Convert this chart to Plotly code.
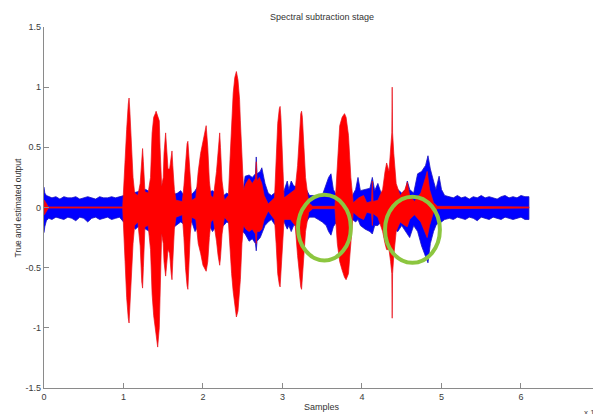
import plotly.graph_objects as go

# ---- data (x in units of 10^4 samples), envelopes ----
noisy_x = [0.00, 0.01, 0.03, 0.06, 0.10, 0.15, 0.20, 0.25, 0.30, 0.35, 0.40, 0.45, 0.50, 0.55, 0.60,
           0.65, 0.70, 0.75, 0.80, 0.85, 0.90, 0.95, 1.00, 1.10, 1.15, 1.20, 1.28, 1.33, 1.48, 1.56,
           1.64, 1.68, 1.72, 1.76, 1.86, 1.90, 1.94, 2.08, 2.12, 2.16, 2.26, 2.30, 2.34, 2.50, 2.53,
           2.58, 2.62, 2.66, 2.67, 2.68, 2.72, 2.74, 2.78, 2.82, 2.86, 2.90, 3.02, 3.06, 3.08, 3.11,
           3.14, 3.30, 3.34, 3.40, 3.45, 3.50, 3.55, 3.58, 3.61, 3.64, 3.68, 3.88, 3.92, 3.95, 3.98,
           4.04, 4.10, 4.13, 4.16, 4.20, 4.24, 4.30, 4.45, 4.50, 4.55, 4.57, 4.60, 4.65, 4.70, 4.75,
           4.80, 4.83, 4.86, 4.90, 4.93, 4.97, 5.00, 5.04, 5.10, 5.15, 5.20, 5.25, 5.30, 5.35, 5.40,
           5.45, 5.50, 5.55, 5.60, 5.65, 5.70, 5.75, 5.80, 5.85, 5.90, 5.95, 6.00, 6.05, 6.10]
noisy_upper = [0.17, 0.12, 0.10, 0.09, 0.08, 0.09, 0.07, 0.09, 0.08, 0.08, 0.09, 0.07, 0.08, 0.09, 0.08,
               0.07, 0.09, 0.08, 0.08, 0.09, 0.08, 0.09, 0.10, 0.12, 0.13, 0.14, 0.15, 0.13, 0.12, 0.12,
               0.11, 0.12, 0.14, 0.10, 0.11, 0.14, 0.18, 0.13, 0.14, 0.12, 0.10, 0.12, 0.10, 0.12, 0.26,
               0.27, 0.25, 0.28, 0.42, 0.28, 0.30, 0.33, 0.20, 0.12, 0.10, 0.12, 0.14, 0.22, 0.15, 0.22,
               0.18, 0.15, 0.10, 0.10, 0.09, 0.10, 0.20, 0.25, 0.28, 0.15, 0.10, 0.10, 0.15, 0.25, 0.14,
               0.15, 0.16, 0.25, 0.14, 0.20, 0.12, 0.15, 0.15, 0.12, 0.15, 0.22, 0.15, 0.12, 0.28, 0.30,
               0.35, 0.43, 0.32, 0.22, 0.15, 0.26, 0.15, 0.10, 0.09, 0.08, 0.10, 0.08, 0.09, 0.07, 0.09,
               0.08, 0.10, 0.08, 0.09, 0.08, 0.07, 0.09, 0.10, 0.08, 0.09, 0.08, 0.10, 0.09, 0.09]
noisy_lower = [-0.21, -0.16, -0.11, -0.09, -0.10, -0.08, -0.09, -0.10, -0.08, -0.09, -0.11, -0.08, -0.09, -0.12, -0.09,
               -0.08, -0.10, -0.09, -0.08, -0.10, -0.09, -0.08, -0.12, -0.15, -0.18, -0.15, -0.18, -0.20, -0.16, -0.15,
               -0.16, -0.14, -0.12, -0.14, -0.12, -0.20, -0.15, -0.15, -0.20, -0.16, -0.15, -0.12, -0.14, -0.20, -0.22,
               -0.28, -0.26, -0.30, -0.36, -0.28, -0.25, -0.22, -0.15, -0.12, -0.10, -0.14, -0.12, -0.18, -0.15, -0.20,
               -0.15, -0.12, -0.08, -0.08, -0.10, -0.12, -0.15, -0.20, -0.23, -0.16, -0.12, -0.10, -0.12, -0.10, -0.15,
               -0.18, -0.20, -0.22, -0.15, -0.15, -0.12, -0.15, -0.20, -0.15, -0.20, -0.22, -0.25, -0.15, -0.20, -0.32,
               -0.40, -0.46, -0.30, -0.20, -0.15, -0.12, -0.12, -0.10, -0.09, -0.10, -0.08, -0.09, -0.10, -0.08, -0.09,
               -0.11, -0.08, -0.09, -0.10, -0.08, -0.09, -0.10, -0.08, -0.09, -0.10, -0.09, -0.08, -0.10, -0.10]

clean_x = [0.000, 0.005, 0.05, 0.06, 0.99, 1.00, 1.02, 1.04, 1.06, 1.07,
           1.08, 1.10, 1.12, 1.14, 1.18, 1.21, 1.23, 1.24, 1.25, 1.27,
           1.31, 1.34, 1.36, 1.38, 1.40, 1.41, 1.43, 1.45, 1.46, 1.48,
           1.50, 1.51, 1.53, 1.54, 1.56, 1.58, 1.60, 1.61, 1.62, 1.64,
           1.66, 1.74, 1.76, 1.78, 1.80, 1.81, 1.82, 1.84, 1.86, 1.91,
           1.94, 1.97, 2.00, 2.03, 2.04, 2.06, 2.08, 2.10, 2.13, 2.17,
           2.19, 2.21, 2.22, 2.24, 2.27, 2.32, 2.34, 2.36, 2.38, 2.40,
           2.42, 2.44, 2.46, 2.47, 2.49, 2.51, 2.54, 2.58, 2.62, 2.66,
           2.67, 2.68, 2.71, 2.74, 2.77, 2.82, 2.90, 2.92, 2.94, 2.96,
           2.97, 2.98, 3.00, 3.02, 3.10, 3.16, 3.19, 3.21, 3.23, 3.24,
           3.25, 3.27, 3.29, 3.33, 3.38, 3.66, 3.69, 3.72, 3.75, 3.78,
           3.80, 3.83, 3.86, 3.89, 3.96, 4.02, 4.06, 4.12, 4.13, 4.14,
           4.20, 4.26, 4.29, 4.31, 4.34, 4.36, 4.375, 4.38, 4.385, 4.40,
           4.43, 4.48, 4.54, 4.57, 4.60, 4.66, 4.74, 4.80, 4.82, 4.85,
           4.90, 4.95, 6.10]
clean_upper = [0.00, 0.06, 0.01, 0.005, 0.005, 0.15, 0.35, 0.65, 0.86, 0.91,
               0.80, 0.50, 0.25, 0.12, 0.10, 0.20, 0.45, 0.49, 0.38, 0.13,
               0.12, 0.25, 0.62, 0.75, 0.78, 0.80, 0.76, 0.72, 0.50, 0.18,
               0.25, 0.45, 0.62, 0.50, 0.32, 0.32, 0.45, 0.47, 0.35, 0.15,
               0.06, 0.05, 0.18, 0.40, 0.53, 0.55, 0.45, 0.20, 0.06, 0.08,
               0.30, 0.45, 0.55, 0.66, 0.68, 0.50, 0.22, 0.10, 0.08, 0.30,
               0.50, 0.62, 0.50, 0.22, 0.06, 0.10, 0.40, 0.72, 0.95, 1.08,
               1.13, 1.06, 0.90, 0.72, 0.35, 0.15, 0.20, 0.24, 0.20, 0.24,
               0.38, 0.22, 0.25, 0.20, 0.10, 0.03, 0.08, 0.35, 0.70, 0.82,
               0.84, 0.75, 0.35, 0.08, 0.12, 0.15, 0.35, 0.60, 0.78, 0.80,
               0.75, 0.50, 0.25, 0.04, 0.01, 0.01, 0.30, 0.68, 0.75, 0.78,
               0.75, 0.60, 0.25, 0.04, 0.08, 0.10, 0.04, 0.05, 0.22, 0.05,
               0.06, 0.15, 0.30, 0.37, 0.30, 0.50, 0.62, 1.00, 0.62, 0.45,
               0.20, 0.10, 0.15, 0.21, 0.10, 0.05, 0.12, 0.25, 0.30, 0.15,
               0.04, 0.01, 0.005]
clean_lower = [0.00, -0.06, -0.01, -0.005, -0.005, -0.20, -0.45, -0.75, -0.92, -0.96,
               -0.85, -0.55, -0.30, -0.15, -0.12, -0.32, -0.62, -0.67, -0.50, -0.16,
               -0.15, -0.35, -0.72, -0.90, -1.02, -1.05, -1.16, -1.00, -0.65, -0.22,
               -0.30, -0.45, -0.57, -0.50, -0.35, -0.38, -0.55, -0.60, -0.45, -0.18,
               -0.08, -0.06, -0.25, -0.50, -0.65, -0.68, -0.55, -0.22, -0.08, -0.10,
               -0.30, -0.38, -0.48, -0.52, -0.53, -0.45, -0.25, -0.12, -0.10, -0.28,
               -0.40, -0.48, -0.42, -0.22, -0.08, -0.12, -0.35, -0.55, -0.70, -0.82,
               -0.91, -0.86, -0.72, -0.60, -0.30, -0.15, -0.18, -0.20, -0.18, -0.22,
               -0.30, -0.20, -0.20, -0.18, -0.10, -0.03, -0.10, -0.30, -0.55, -0.64,
               -0.66, -0.60, -0.35, -0.10, -0.10, -0.15, -0.40, -0.55, -0.66, -0.68,
               -0.60, -0.40, -0.20, -0.04, -0.01, -0.01, -0.30, -0.45, -0.52, -0.58,
               -0.60, -0.55, -0.30, -0.04, -0.08, -0.10, -0.04, -0.05, -0.15, -0.05,
               -0.08, -0.20, -0.30, -0.35, -0.35, -0.45, -0.55, -0.92, -0.55, -0.40,
               -0.20, -0.12, -0.15, -0.16, -0.10, -0.06, -0.12, -0.22, -0.25, -0.15,
               -0.04, -0.01, -0.005]

x_ticks = [0, 1, 2, 3, 4, 5, 6, 7]
y_ticks = [-1.5, -1, -0.5, 0, 0.5, 1, 1.5]
y_tick_text = ["-1.5", "-1", "-0.5", "0", "0.5", "1", "1.5"]

# highlighted regions (x0, x1, y0, y1)
highlight_regions = [(3.195, 3.86, -0.44, 0.105), (4.29, 4.98, -0.46, 0.09)]

assert len(noisy_x) == len(noisy_upper) == len(noisy_lower)
assert len(clean_x) == len(clean_upper) == len(clean_lower)

FONT = "Liberation Sans, Arial, sans-serif"


def band(xs, up, low):
    return xs + xs[::-1], up + low[::-1]


fig = go.Figure()
bx, by = band(noisy_x, noisy_upper, noisy_lower)
fig.add_trace(go.Scatter(x=bx, y=by, mode="lines", fill="toself", fillcolor="#0000ff",
                         line=dict(color="#1a14c0", width=0.8), hoverinfo="skip", showlegend=False))
rx, ry = band(clean_x, clean_upper, clean_lower)
fig.add_trace(go.Scatter(x=rx, y=ry, mode="lines", fill="toself", fillcolor="#ff0000",
                         line=dict(color="#e8101a", width=0.7), hoverinfo="skip", showlegend=False))

for (x0, x1, y0, y1) in highlight_regions:
    fig.add_shape(type="circle", xref="x", yref="y", x0=x0, x1=x1, y0=y0, y1=y1,
                  line=dict(color="#8cc63f", width=4))

fig.update_layout(
    width=593, height=414,
    margin=dict(l=44, r=0, t=27, b=26),
    paper_bgcolor="white", plot_bgcolor="white",
    font=dict(family=FONT, size=9, color="#3a3a3a"),
    showlegend=False,
    xaxis=dict(range=[0, 6.906], tickvals=x_ticks, ticks="inside", ticklen=5, tickcolor="#8a8a8a",
               showline=True, linecolor="#8a8a8a", linewidth=1.2, showgrid=False, zeroline=False,
               tickfont=dict(size=9, color="#3a3a3a")),
    yaxis=dict(range=[-1.5, 1.5], tickvals=y_ticks, ticktext=y_tick_text, ticks="inside", ticklen=5,
               tickcolor="#8a8a8a", showline=True, linecolor="#8a8a8a", linewidth=1.2,
               showgrid=False, zeroline=False, tickfont=dict(size=9, color="#3a3a3a")),
    annotations=[
        dict(text="Spectral subtraction stage", xref="paper", yref="paper", x=0.506, y=1 + 10 / 361,
             xanchor="center", yanchor="middle", showarrow=False, font=dict(size=9, color="#333333")),
        dict(text="Samples", xref="paper", yref="paper", x=0.506, y=-19 / 361,
             xanchor="center", yanchor="middle", showarrow=False, font=dict(size=9, color="#333333")),
        dict(text="True and estimated output", xref="paper", yref="paper", x=-27 / 549, y=0.5,
             xanchor="center", yanchor="middle", textangle=-90, showarrow=False,
             font=dict(size=8.5, color="#333333")),
        dict(text="x 10<sup>4</sup>", xref="paper", yref="paper", x=(582 - 44) / 549, y=-24 / 361,
             xanchor="left", yanchor="middle", showarrow=False, font=dict(size=8, color="#444444")),
    ],
)

fig.write_html("out.html")
